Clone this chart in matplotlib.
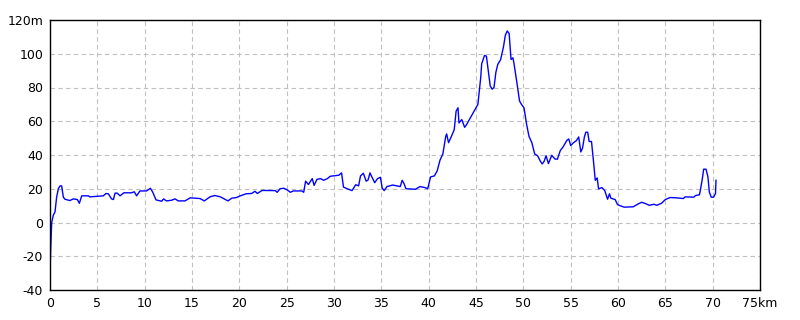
import matplotlib
matplotlib.use("Agg")
import matplotlib.pyplot as plt
from matplotlib import font_manager

# elevation profile (km, m)
dist_km = [
    0.0, 0.07, 0.18, 0.35, 0.53, 0.7, 0.88, 1.06, 1.23, 1.41, 1.58, 2.1, 2.46,
    2.89, 3.1, 3.35, 4.05, 4.2, 5.63, 5.92, 6.16, 6.5, 6.7, 6.87, 7.1, 7.4,
    7.8, 8.6, 8.9, 9.15, 9.5, 10.2, 10.6, 10.85, 11.2, 11.8, 12.0, 12.3,
    12.85, 13.2, 13.55, 14.26, 14.8, 15.85, 16.3, 16.9, 17.4, 18.0, 18.8,
    19.2, 19.7, 20.1, 20.7, 21.3, 21.65, 21.9, 22.4, 23.8, 24.0, 24.3, 24.7,
    25.0, 25.4, 25.7, 26.6, 26.8, 27.0, 27.3, 27.7, 27.9, 28.2, 28.6, 28.9,
    29.3, 29.6, 30.5, 30.8, 31.0, 31.4, 31.9, 32.3, 32.6, 32.8, 33.1, 33.4,
    33.6, 33.8, 34.0, 34.3, 34.6, 34.9, 35.1, 35.3, 35.6, 36.2, 37.0, 37.2,
    37.4, 37.6, 38.6, 39.1, 39.6, 39.9, 40.2, 40.6, 40.9, 41.2, 41.5, 41.8,
    41.9, 42.1, 42.4, 42.7, 42.9, 43.1, 43.2, 43.5, 43.8, 44.0, 44.4, 44.9,
    45.2, 45.5, 45.6, 45.9, 46.1, 46.3, 46.5, 46.7, 46.9, 47.1, 47.3, 47.6,
    47.9, 48.1, 48.3, 48.5, 48.7, 48.9, 49.0, 49.3, 49.6, 49.8, 50.07, 50.35,
    50.6, 50.9, 51.2, 51.5, 51.8, 52.0, 52.2, 52.4, 52.65, 53.0, 53.35, 53.6,
    53.9, 54.2, 54.6, 54.8, 55.0, 55.3, 55.6, 55.85, 56.07, 56.25, 56.45,
    56.6, 56.8, 56.95, 57.2, 57.4, 57.6, 57.8, 57.95, 58.3, 58.6, 58.9, 59.1,
    59.25, 59.7, 59.95, 60.2, 60.65, 61.6, 62.2, 62.5, 62.9, 63.3, 63.8,
    64.1, 64.6, 65.0, 65.5, 66.2, 66.9, 67.1, 68.0, 68.2, 68.6, 68.7, 68.9,
    69.05, 69.3, 69.5, 69.65, 69.85, 70.1, 70.3, 70.35,
]
elev_m = [
    -30, -16, 0, 4.3, 6.3, 15, 20, 21.7, 21.7, 15, 13.8, 13, 14,
    13.6, 11.4, 15.8, 15.8, 15.2, 15.8, 17.2, 17, 14, 13.6, 17.4, 17.4, 15.8,
    17.6, 17.6, 18.2, 15.8, 18.7, 18.7, 20.3, 18, 13.4, 12.6, 14, 12.8,
    13.2, 14, 12.8, 12.8, 14.6, 14.2, 12.8, 15.2, 16, 15.2, 12.8,
    14.4, 14.8, 15.8, 17, 17.2, 18.5, 17.2, 19, 18.9, 17.9, 20, 20.3,
    19.5, 17.9, 18.7, 18.7, 17.9, 24.5, 22.5, 26, 22, 25.6, 26, 25,
    26, 27.4, 28, 29.4, 21, 20, 18.9, 22.4, 21.7, 27.6, 29.2, 24.5,
    25.2, 29.4, 27, 23.6, 26, 26.8, 20.3, 18.9, 21.3, 22.2, 21.3, 25,
    23, 20, 19.7, 21.3, 20.7, 20, 27, 27.6, 30.6, 37, 40.6, 51,
    52.5, 47.3, 51, 55, 66, 68, 59, 61, 56.4, 58, 62, 67,
    70, 86, 94, 99, 98.6, 90, 81, 79, 80, 89, 93.7, 96.5,
    104, 111, 113.5, 112, 96.6, 97.6, 94.7, 83.6, 72, 70, 68, 58,
    51, 47.3, 40.6, 39.6, 36.3, 34.7, 36.3, 39.6, 34.9, 39.8, 37.6, 37.5,
    42.6, 44.8, 48.7, 49.5, 45.6, 47.3, 48.5, 50.7, 41.8, 44, 50.7,
    53.5, 53.5, 48, 48, 36.9, 25, 26.4, 19.9, 20.7, 18.9, 13.8, 17,
    14.4, 13.6, 10.6, 10, 9.1, 9.3, 11.2, 12, 11.2, 10.2, 10.8,
    10.2, 11.4, 13.6, 14.8, 14.6, 14.2, 15.2, 15, 16, 16.4, 19.1, 25.6,
    31.6, 31.6, 27, 18, 15, 15, 17.2, 25,
]

x_ticks = [0, 5, 10, 15, 20, 25, 30, 35, 40, 45, 50, 55, 60, 65, 70, 75]
x_labels = ["0", "5", "10", "15", "20", "25", "30", "35", "40", "45", "50",
            "55", "60", "65", "70", "75km"]
y_ticks = [-40, -20, 0, 20, 40, 60, 80, 100, 120]
y_labels = ["-40", "-20", "0", "20", "40", "60", "80", "100", "120m"]

names = {f.name for f in font_manager.fontManager.ttflist}
font = "Liberation Sans Narrow" if "Liberation Sans Narrow" in names else "DejaVu Sans"
plt.rcParams["font.family"] = [font, "DejaVu Sans"]

fig = plt.figure(figsize=(8, 3.2), dpi=100)
ax = fig.add_axes([0.0625, 0.09375, 0.8875, 0.84375])

ax.plot(dist_km, elev_m, color="#0000ff", linewidth=1.0)

ax.set_xlim(0, 75)
ax.set_ylim(-40, 120)
ax.set_xticks(x_ticks)
ax.set_xticklabels(x_labels)
ax.set_yticks(y_ticks)
ax.set_yticklabels(y_labels)
ax.tick_params(length=0, labelsize=9, pad=5)
ax.grid(True, color="#c0c0c0", linestyle=(0, (4, 3)), linewidth=0.8)
for s in ax.spines.values():
    s.set_linewidth(1.0)
    s.set_color("black")

fig.savefig("out.png", dpi=100)
